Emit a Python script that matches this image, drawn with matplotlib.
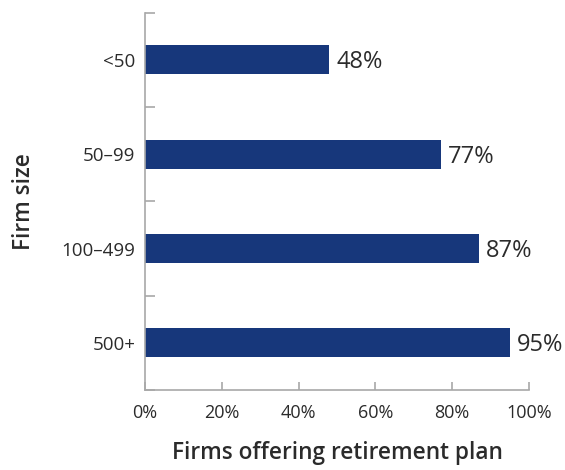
import matplotlib.pyplot as plt
import numpy as np
from matplotlib.transforms import offset_copy

sizes = ['<50', '50\u201399', '100\u2013499', '500+']
pct_offering = [48, 77, 87, 95]

navy = '#17377b'
grey = '#a8a8a8'
ink = '#2b2b2b'

plt.rcParams['font.family'] = ['Open Sans', 'DejaVu Sans']

fig = plt.figure(figsize=(5.65, 4.7), dpi=100)
ax = fig.add_axes([0.2566, 0.1702, 0.6796, 0.8028])

y = np.arange(len(sizes))
ax.barh(y, pct_offering, height=0.31, color=navy)

# value labels: baseline dropped by half the digit height so the figures sit centred on the bar
label_pt = 17
drop = offset_copy(ax.transData, fig=fig, x=5, y=-0.714 * label_pt / 2, units='points')
for yi, v in zip(y, pct_offering):
    ax.text(v, yi, '%d%%' % v, va='baseline', ha='left', transform=drop,
            fontsize=label_pt, color=ink, clip_on=False)

ax.set_xlim(0, 100)
ax.set_ylim(len(sizes) - 0.5, -0.5)
ax.set_xticks(np.arange(0, 101, 20))
ax.set_xticklabels(['%d%%' % t for t in range(0, 101, 20)])
ax.set_yticks(y)
ax.set_yticklabels(sizes)
ax.set_yticks(np.arange(-0.5, len(sizes), 1.0), minor=True)

for s in ['top', 'right']:
    ax.spines[s].set_visible(False)
for s in ['left', 'bottom']:
    ax.spines[s].set_color(grey)
    ax.spines[s].set_linewidth(1.2)

ax.tick_params(axis='x', direction='in', length=6, width=1.2, color=grey,
               labelsize=13, labelcolor=ink, pad=10)
ax.tick_params(axis='y', which='major', length=0, labelsize=13.5,
               labelcolor=ink, pad=7)
ax.tick_params(axis='y', which='minor', direction='in', length=7,
               width=1.2, color=grey)

ax.set_xlabel('Firms offering retirement plan', fontsize=16.3,
              fontweight='semibold', color=ink, labelpad=14)
ax.set_ylabel('Firm size', fontsize=16.3, fontweight='semibold',
              color=ink, labelpad=18)

fig.savefig('out.png', dpi=100)
